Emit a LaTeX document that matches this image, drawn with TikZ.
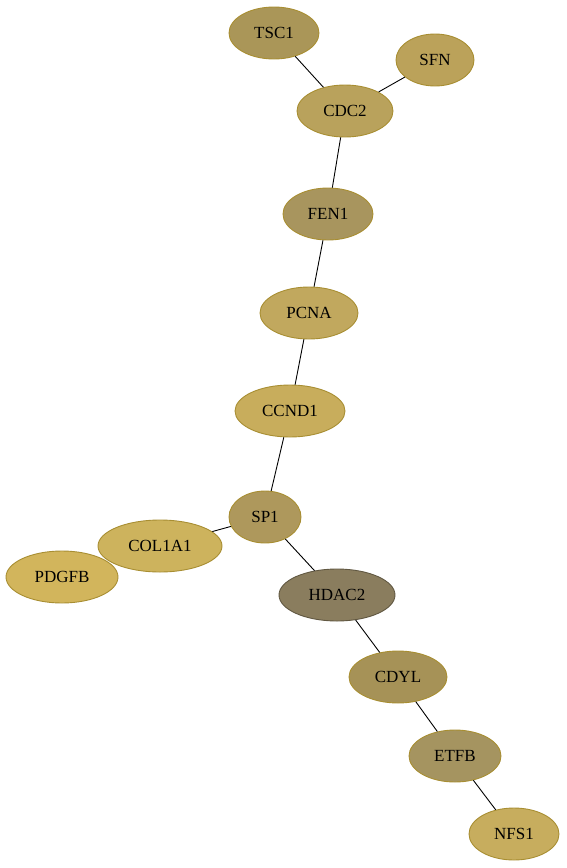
\documentclass[tikz,border=0pt]{standalone}
\usepackage{fontspec}
\setmainfont{Liberation Serif}
\usetikzlibrary{shapes.geometric}
\definecolor{cTSC}{HTML}{AA9658}
\definecolor{cSFN}{HTML}{BBA25A}
\definecolor{cCDC}{HTML}{B9A25C}
\definecolor{cFEN}{HTML}{A8955E}
\definecolor{cPCNA}{HTML}{C1A85E}
\definecolor{cCCND}{HTML}{C8AD5C}
\definecolor{cSP}{HTML}{AE985C}
\definecolor{cCOL}{HTML}{CDB35D}
\definecolor{cPDG}{HTML}{D2B55C}
\definecolor{cHDAC}{HTML}{8A7D5E}
\definecolor{cCDYL}{HTML}{A69257}
\definecolor{cETFB}{HTML}{A59460}
\definecolor{cNFS}{HTML}{C7AD5E}
\definecolor{bord}{HTML}{A88E32}
\tikzset{
  gene/.style={ellipse, draw=bord, line width=0.9pt, inner sep=0pt,
    minimum height=52pt, font=\fontsize{17}{20}\selectfont},
  link/.style={draw=black, line width=0.9pt}
}
\begin{document}
\begin{tikzpicture}[x=1pt,y=-1pt]
\useasboundingbox (0,0) rectangle (567,868);
\node[gene, fill=cTSC, minimum width=90pt] (TSC1) at (274,33) {TSC1};
\node[gene, fill=cSFN, minimum width=78pt] (SFN) at (435,60) {SFN};
\node[gene, fill=cCDC, minimum width=96pt] (CDC2) at (345,111) {CDC2};
\node[gene, fill=cFEN, minimum width=90pt] (FEN1) at (328,214) {FEN1};
\node[gene, fill=cPCNA, minimum width=98pt] (PCNA) at (309,313) {PCNA};
\node[gene, fill=cCCND, minimum width=110pt] (CCND1) at (290,411) {CCND1};
\node[gene, fill=cSP, minimum width=72pt] (SP1) at (265,517) {SP1};
\node[gene, fill=cPDG, minimum width=112pt] (PDGFB) at (62,577) {PDGFB};
\node[gene, fill=cCOL, minimum width=124pt] (COL1A1) at (160,546) {COL1A1};
\node[gene, fill=cHDAC, minimum width=116pt, draw=cHDAC!70!black] (HDAC2) at (337,595) {HDAC2};
\node[gene, fill=cCDYL, minimum width=98pt] (CDYL) at (398,677) {CDYL};
\node[gene, fill=cETFB, minimum width=92pt] (ETFB) at (455,756) {ETFB};
\node[gene, fill=cNFS, minimum width=90pt] (NFS1) at (514,834) {NFS1};
\draw[link] (TSC1) -- (CDC2);
\draw[link] (SFN) -- (CDC2);
\draw[link] (CDC2) -- (FEN1);
\draw[link] (FEN1) -- (PCNA);
\draw[link] (PCNA) -- (CCND1);
\draw[link] (CCND1) -- (SP1);
\draw[link] (SP1) -- (COL1A1);
\draw[link] (SP1) -- (HDAC2);
\draw[link] (HDAC2) -- (CDYL);
\draw[link] (CDYL) -- (ETFB);
\draw[link] (ETFB) -- (NFS1);
\end{tikzpicture}
\end{document}
